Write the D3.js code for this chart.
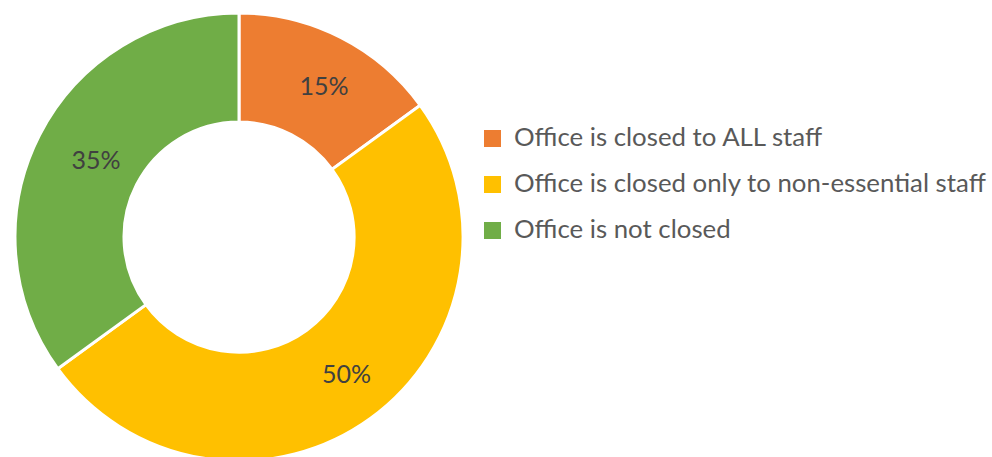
<!DOCTYPE html>
<meta charset="utf-8">
<style>
body { margin: 0; background: #fff; }
text { font-family: Lato, "Liberation Sans", sans-serif; }
</style>
<svg width="992" height="457"></svg>
<script src="https://cdn.jsdelivr.net/npm/d3@7"></script>
<script>

var categories = ["Office is closed to ALL staff", "Office is closed only to non-essential staff", "Office is not closed"];
var values = [15, 50, 35];
var colors = ["#ED7D31", "#FFC000", "#70AD47"];

var svg = d3.select("svg"),
    cx = 239, cy = 237,
    outer = 224, inner = 115;

var pie = d3.pie().sort(null).value(function(d) { return d; });
var arc = d3.arc().innerRadius(inner).outerRadius(outer);

var total = d3.sum(values);
var arcs = pie(values);

var g = svg.append("g").attr("transform", "translate(" + cx + "," + cy + ")");

g.selectAll("path")
  .data(arcs)
  .enter().append("path")
    .attr("d", arc)
    .attr("fill", function(d, i) { return colors[i]; })
    .attr("stroke", "#fff")
    .attr("stroke-width", 3);

g.selectAll("text")
  .data(arcs)
  .enter().append("text")
    .attr("transform", function(d) {
      var c = arc.centroid(d);
      return "translate(" + (c[0] + 8) + "," + (c[1] + 9) + ")";
    })
    .attr("text-anchor", "middle")
    .style("font-size", "25px")
    .style("fill", "#404040")
    .text(function(d) { return Math.round(d.value / total * 100) + "%"; });

// legend
var legend = svg.append("g").attr("transform", "translate(484,130)");

var item = legend.selectAll("g")
  .data(categories)
  .enter().append("g")
    .attr("transform", function(d, i) { return "translate(0," + (i * 46) + ")"; });

item.append("rect")
    .attr("width", 17)
    .attr("height", 17)
    .attr("fill", function(d, i) { return colors[i]; });

item.append("text")
    .attr("x", 30)
    .attr("y", 16)
    .style("font-size", "25.8px")
    .style("fill", "#595959")
    .text(function(d) { return d; });

</script>
